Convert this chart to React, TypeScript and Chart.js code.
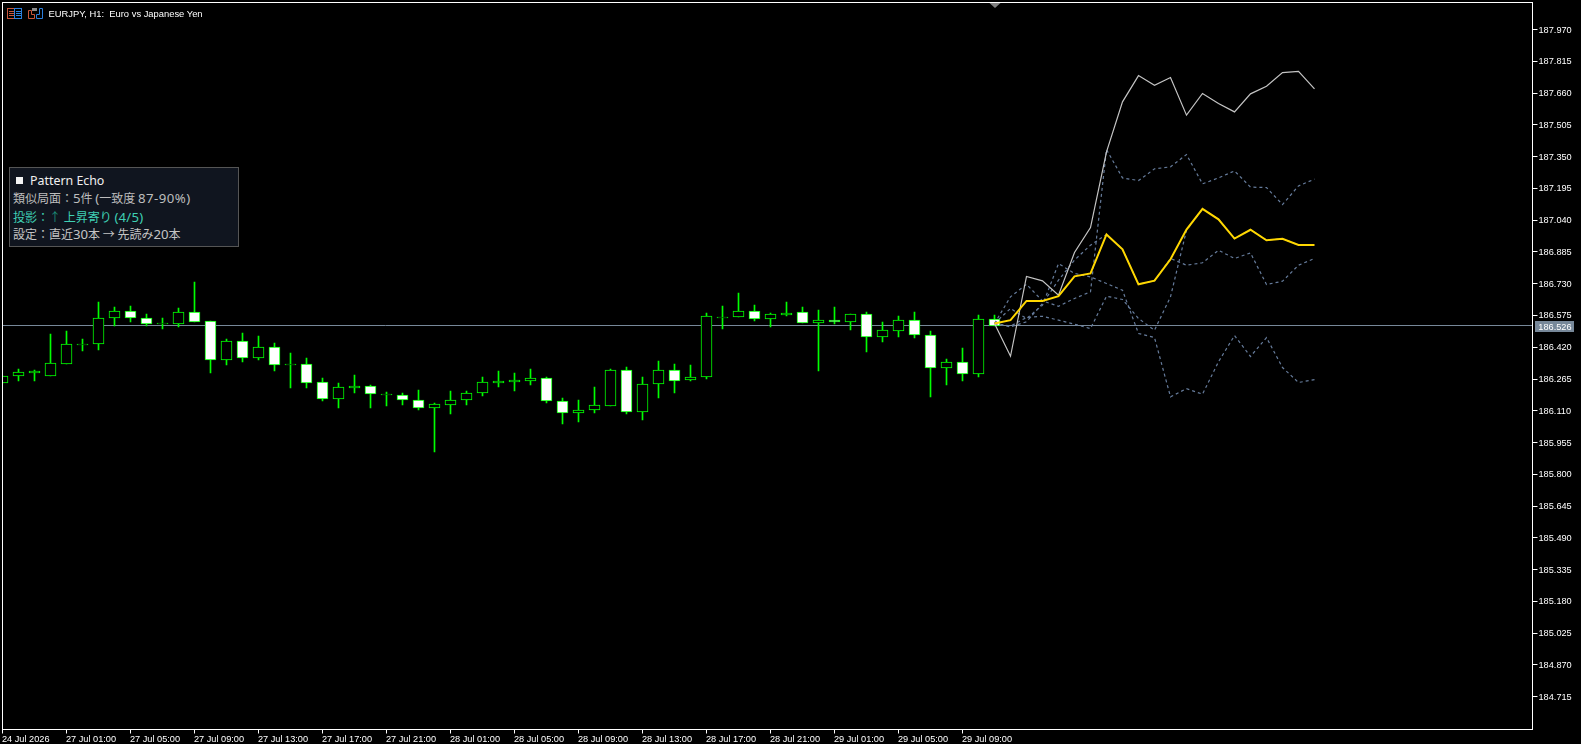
import React, { useEffect, useRef } from "react";
import { Chart, registerables } from "chart.js";

Chart.register(...registerables);

const opens = [186.246,186.281,186.295,186.281,186.339,186.438,186.437,186.563,186.599,186.565,186.536,186.534,186.594,186.546,186.359,186.448,186.368,186.419,186.336,186.336,186.248,186.168,186.222,186.229,186.188,186.189,186.165,186.124,186.139,186.163,186.198,186.246,186.251,186.256,186.272,186.160,186.100,186.115,186.134,186.307,186.105,186.242,186.311,186.261,186.276,186.567,186.568,186.599,186.559,186.578,186.594,186.539,186.555,186.544,186.580,186.471,186.500,186.555,186.482,186.320,186.350,186.290,186.560];
const highs = [186.281,186.313,186.308,186.484,186.498,186.459,186.640,186.615,186.620,186.581,186.562,186.611,186.737,186.547,186.459,186.489,186.474,186.440,186.391,186.367,186.269,186.245,186.284,186.235,186.201,186.196,186.211,186.147,186.206,186.206,186.274,186.303,186.294,186.313,186.274,186.172,186.162,186.225,186.313,186.323,186.274,186.352,186.337,186.333,186.586,186.620,186.684,186.625,186.586,186.640,186.615,186.601,186.615,186.580,186.591,186.542,186.572,186.591,186.498,186.362,186.415,186.576,186.576];
const lows = [186.246,186.255,186.255,186.281,186.339,186.401,186.406,186.524,186.544,186.524,186.508,186.518,186.544,186.294,186.333,186.347,186.357,186.303,186.220,186.220,186.157,186.123,186.196,186.123,186.133,186.137,186.113,185.908,186.094,186.137,186.181,186.225,186.206,186.235,186.147,186.045,186.055,186.098,186.134,186.094,186.064,186.172,186.196,186.255,186.264,186.508,186.568,186.547,186.518,186.572,186.539,186.303,186.533,186.503,186.396,186.445,186.469,186.464,186.176,186.235,186.255,186.274,186.526];
const closes = [186.281,186.297,186.302,186.341,186.438,186.438,186.565,186.599,186.563,186.534,186.536,186.594,186.544,186.359,186.448,186.368,186.419,186.334,186.336,186.246,186.168,186.224,186.233,186.193,186.194,186.163,186.124,186.141,186.165,186.199,186.248,186.253,186.258,186.272,186.159,186.100,186.116,186.136,186.307,186.105,186.243,186.311,186.256,186.277,186.570,186.567,186.599,186.559,186.580,186.585,186.539,186.555,186.544,186.580,186.471,186.502,186.555,186.481,186.320,186.350,186.290,186.560,186.526];

const medianPath = [186.536,186.552,186.646,186.646,186.669,186.766,186.780,186.970,186.898,186.727,186.745,186.849,186.994,187.095,187.044,186.950,186.993,186.942,186.949,186.919,186.919];
const echoSolid = [186.536,186.376,186.765,186.744,186.674,186.882,187.004,187.373,187.617,187.745,187.698,187.736,187.552,187.658,187.609,187.568,187.656,187.693,187.760,187.766,187.680];
const echoA = [186.536,186.666,186.727,186.646,186.620,186.658,186.690,187.384,187.246,187.233,187.290,187.300,187.360,187.217,187.246,187.280,187.201,187.199,187.116,187.207,187.240];
const echoB = [186.536,186.519,186.544,186.633,186.747,186.845,186.918,186.970,186.898,186.727,186.745,186.853,186.820,186.832,186.893,186.853,186.880,186.726,186.742,186.820,186.853];
const echoC = [186.536,186.609,186.560,186.625,186.828,186.780,186.763,186.731,186.698,186.487,186.467,186.178,186.218,186.191,186.349,186.477,186.375,186.467,186.321,186.248,186.262];
const echoD = [186.536,186.523,186.565,186.571,186.552,186.532,186.511,186.669,186.653,186.560,186.503,186.666,186.991,187.095,187.044,186.950,186.993,186.942,186.949,186.919,186.919];

const currentPrice = 186.526;
const priceTicks = [187.97,187.815,187.66,187.505,187.35,187.195,187.04,186.885,186.73,186.575,186.42,186.265,186.11,185.955,185.8,185.645,185.49,185.335,185.18,185.025,184.87,184.715];
const timeTickIndex = [0,4,8,12,16,20,24,28,32,36,40,44,48,52,56,60];
const timeTickLabels = ["24 Jul 2026","27 Jul 01:00","27 Jul 05:00","27 Jul 09:00","27 Jul 13:00","27 Jul 17:00","27 Jul 21:00","28 Jul 01:00","28 Jul 05:00","28 Jul 09:00","28 Jul 13:00","28 Jul 17:00","28 Jul 21:00","29 Jul 01:00","29 Jul 05:00","29 Jul 09:00"];
const lastBarIndex = 62;

const GREEN = "#00ff00";
const AXIS_FONT = { family: "'Liberation Sans', Arial, sans-serif", size: 9.2 };

const crispBars = {
  id: "crispBars",
  afterDatasetsUpdate(chart: any) {
    chart.data.datasets.forEach((ds: any, i: number) => {
      if (ds.type === "line") return;
      chart.getDatasetMeta(i).data.forEach((el: any) => {
        const top = Math.round(Math.min(el.y, el.base));
        let bottom = Math.round(Math.max(el.y, el.base));
        if (bottom <= top) bottom = top + 1;
        el.y = top;
        el.base = bottom;
        el.height = bottom - top;
      });
    });
  },
};

const frameAndLabel = {
  id: "frameAndLabel",
  afterDraw(chart: any) {
    const { ctx, chartArea: a, scales } = chart;
    ctx.save();
    ctx.strokeStyle = "#ffffff";
    ctx.lineWidth = 1;
    ctx.strokeRect(a.left, a.top, a.right - a.left, a.bottom - a.top);

    const y = Math.round(scales.y.getPixelForValue(currentPrice));
    ctx.fillStyle = "#778899";
    ctx.fillRect(1535, y - 5, 39, 11);
    ctx.fillStyle = "#ffffff";
    ctx.font = `${AXIS_FONT.size}px ${AXIS_FONT.family}`;
    ctx.textBaseline = "middle";
    ctx.textAlign = "left";
    ctx.fillText(currentPrice.toFixed(3), 1538.3, y + 1);

    const mx = scales.x.getPixelForValue(lastBarIndex);
    ctx.fillStyle = "#808080";
    ctx.beginPath();
    ctx.moveTo(mx - 5, 3);
    ctx.lineTo(mx + 6, 3);
    ctx.lineTo(mx + 0.5, 8);
    ctx.closePath();
    ctx.fill();
    ctx.restore();
  },
};

function lineData(values: number[]) {
  return values.map((y, k) => ({ x: lastBarIndex + k, y }));
}

function dashed(values: number[], order: number) {
  return {
    type: "line",
    data: lineData(values),
    borderColor: "#667c9c",
    borderWidth: 1.2,
    borderDash: [3, 3],
    pointRadius: 0,
    tension: 0,
    order,
  };
}

export default function App() {
  const ref = useRef<HTMLCanvasElement | null>(null);

  useEffect(() => {
    document.body.style.margin = "0";
    document.body.style.background = "#000";
    document.body.style.overflow = "hidden";
    const chart = new Chart(ref.current as HTMLCanvasElement, {
      type: "bar",
      data: {
        datasets: [
          { type: "line", data: lineData(medianPath), borderColor: "#ffd700", borderWidth: 2, pointRadius: 0, tension: 0, order: 0, borderJoinStyle: "miter" },
          { type: "line", data: lineData(echoSolid), borderColor: "#c4c4c4", borderWidth: 1.2, pointRadius: 0, tension: 0, order: 1 },
          dashed(echoA, 2),
          dashed(echoB, 3),
          dashed(echoC, 4),
          dashed(echoD, 5),
          {
            type: "bar",
            data: opens.map((o, i) => ({ x: i, y: [o, closes[i]] })),
            backgroundColor: opens.map((o, i) => (closes[i] < o ? "#ffffff" : "#000000")),
            borderColor: GREEN,
            borderWidth: 1,
            borderSkipped: false,
            barThickness: 11,
            grouped: false,
            order: 6,
          },
          {
            type: "bar",
            data: highs.map((h, i) => ({ x: i, y: [lows[i], h] })),
            backgroundColor: GREEN,
            borderWidth: 0,
            barThickness: 1,
            grouped: false,
            order: 7,
          },
          {
            type: "line",
            data: [{ x: 0, y: currentPrice }, { x: 96, y: currentPrice }],
            borderColor: "#778899",
            borderWidth: 1,
            pointRadius: 0,
            order: 8,
          },
        ],
      } as any,
      options: {
        animation: false,
        responsive: false,
        devicePixelRatio: 1,
        layout: { padding: { left: 2.5, top: 2.5, right: 0, bottom: 0 } },
        plugins: { legend: { display: false }, tooltip: { enabled: false }, title: { display: false } },
        scales: {
          x: {
            type: "linear",
            offset: false,
            min: 0,
            max: 95.625,
            grid: { display: true, offset: false, drawOnChartArea: false, drawTicks: true, tickLength: 4, tickColor: "#ffffff" },
            border: { display: true, color: "#ffffff" },
            afterBuildTicks(scale: any) {
              scale.ticks = timeTickIndex.map((value) => ({ value }));
            },
            afterFit(scale: any) {
              scale.height = 14.5;
              scale.paddingLeft = scale.paddingRight = scale.paddingTop = scale.paddingBottom = 0;
            },
            ticks: {
              color: "#ffffff",
              font: AXIS_FONT,
              align: "start",
              padding: 0,
              labelOffset: -0.5,
              maxRotation: 0,
              minRotation: 0,
              autoSkip: false,
              callback(value: any) {
                return timeTickLabels[timeTickIndex.indexOf(value)];
              },
            },
          },
          y: {
            type: "linear",
            position: "right",
            min: 184.55527,
            max: 188.10161,
            grid: { display: true, drawOnChartArea: false, drawTicks: true, tickLength: 5, tickColor: "#ffffff" },
            border: { display: true, color: "#ffffff" },
            afterBuildTicks(scale: any) {
              scale.ticks = priceTicks.map((value) => ({ value }));
            },
            afterFit(scale: any) {
              scale.width = 48.5;
              scale.paddingLeft = scale.paddingRight = scale.paddingTop = scale.paddingBottom = 0;
            },
            ticks: {
              color: "#ffffff",
              font: AXIS_FONT,
              padding: 1,
              labelOffset: 0.5,
              autoSkip: false,
              callback(value: any) {
                return Number(value).toFixed(3);
              },
            },
          },
        },
      } as any,
      plugins: [crispBars, frameAndLabel] as any,
    });
    return () => chart.destroy();
  }, []);

  const panelFont = "'Noto Sans CJK JP', 'Noto Sans', sans-serif";
  const latinFont = "'Noto Sans', sans-serif";
  const lineStyle = (top: number, color: string): React.CSSProperties => ({
    position: "absolute",
    left: 3,
    top,
    color,
    whiteSpace: "pre",
    fontSize: 12,
    lineHeight: "18px",
    fontFamily: panelFont,
  });
  const Lat = ({ children, spacing = 0 }: { children: React.ReactNode; spacing?: number }) => (
    <span style={{ fontFamily: latinFont, fontSize: 13.2, letterSpacing: spacing }}>{children}</span>
  );

  return (
    <div style={{ position: "absolute", left: 0, top: 0, width: 1581, height: 744, background: "#000", overflow: "hidden" }}>
      <canvas ref={ref} width={1581} height={744} style={{ position: "absolute", left: 0, top: 0, width: 1581, height: 744 }} />
      <svg width={40} height={14} style={{ position: "absolute", left: 6, top: 7 }} viewBox="0 0 40 14">
        <rect x={1.5} y={1.5} width={7} height={10} fill="none" stroke="#c8553a" />
        <rect x={8.5} y={1.5} width={7} height={10} fill="none" stroke="#2b7fdc" />
        <path d="M3 4.5h5M3 6.5h5M3 8.5h5" stroke="#c8553a" />
        <path d="M10 4.5h5M10 6.5h5M10 8.5h5" stroke="#2b7fdc" />
        <path d="M22.5 3.5v8h6v-4h-3v-4z" fill="none" stroke="#c8553a" />
        <path d="M30.5 11.5h6v-10h-3v6h-3z" fill="none" stroke="#2b7fdc" />
        <rect x={26} y={1} width={5} height={3} fill="#8a8a8a" />
      </svg>
      <div style={{ position: "absolute", left: 48.5, top: 7, fontFamily: "'Liberation Sans', Arial, sans-serif", fontSize: 9.4, lineHeight: "14px", color: "#ffffff", whiteSpace: "pre" }}>
        EURJPY, H1:  Euro vs Japanese Yen
      </div>
      <div style={{ position: "absolute", left: 9, top: 167, width: 228, height: 78, background: "#10151f", border: "1px solid #555555" }}>
        <div style={{ position: "absolute", left: 6, top: 9, width: 7, height: 7, background: "#f4f4f4" }} />
        <div style={{ ...lineStyle(4, "#f0f0f0"), left: 20, fontFamily: latinFont, fontSize: 12.4 }}>Pattern Echo</div>
        <div style={lineStyle(21, "#bdbdbd")}>
          類似局面：<Lat>5</Lat>件 <Lat>(</Lat>一致度 <Lat spacing={0.5}>87-90%)</Lat>
        </div>
        <div style={lineStyle(40, "#3fd0b4")}>
          投影：<span style={{ color: "#1c8f78" }}>↑</span> 上昇寄り <Lat spacing={0.2}>(4/5)</Lat>
        </div>
        <div style={lineStyle(57, "#c4c4c4")}>
          設定：直近<Lat>30</Lat>本 → 先読み<Lat>20</Lat>本
        </div>
      </div>
    </div>
  );
}
